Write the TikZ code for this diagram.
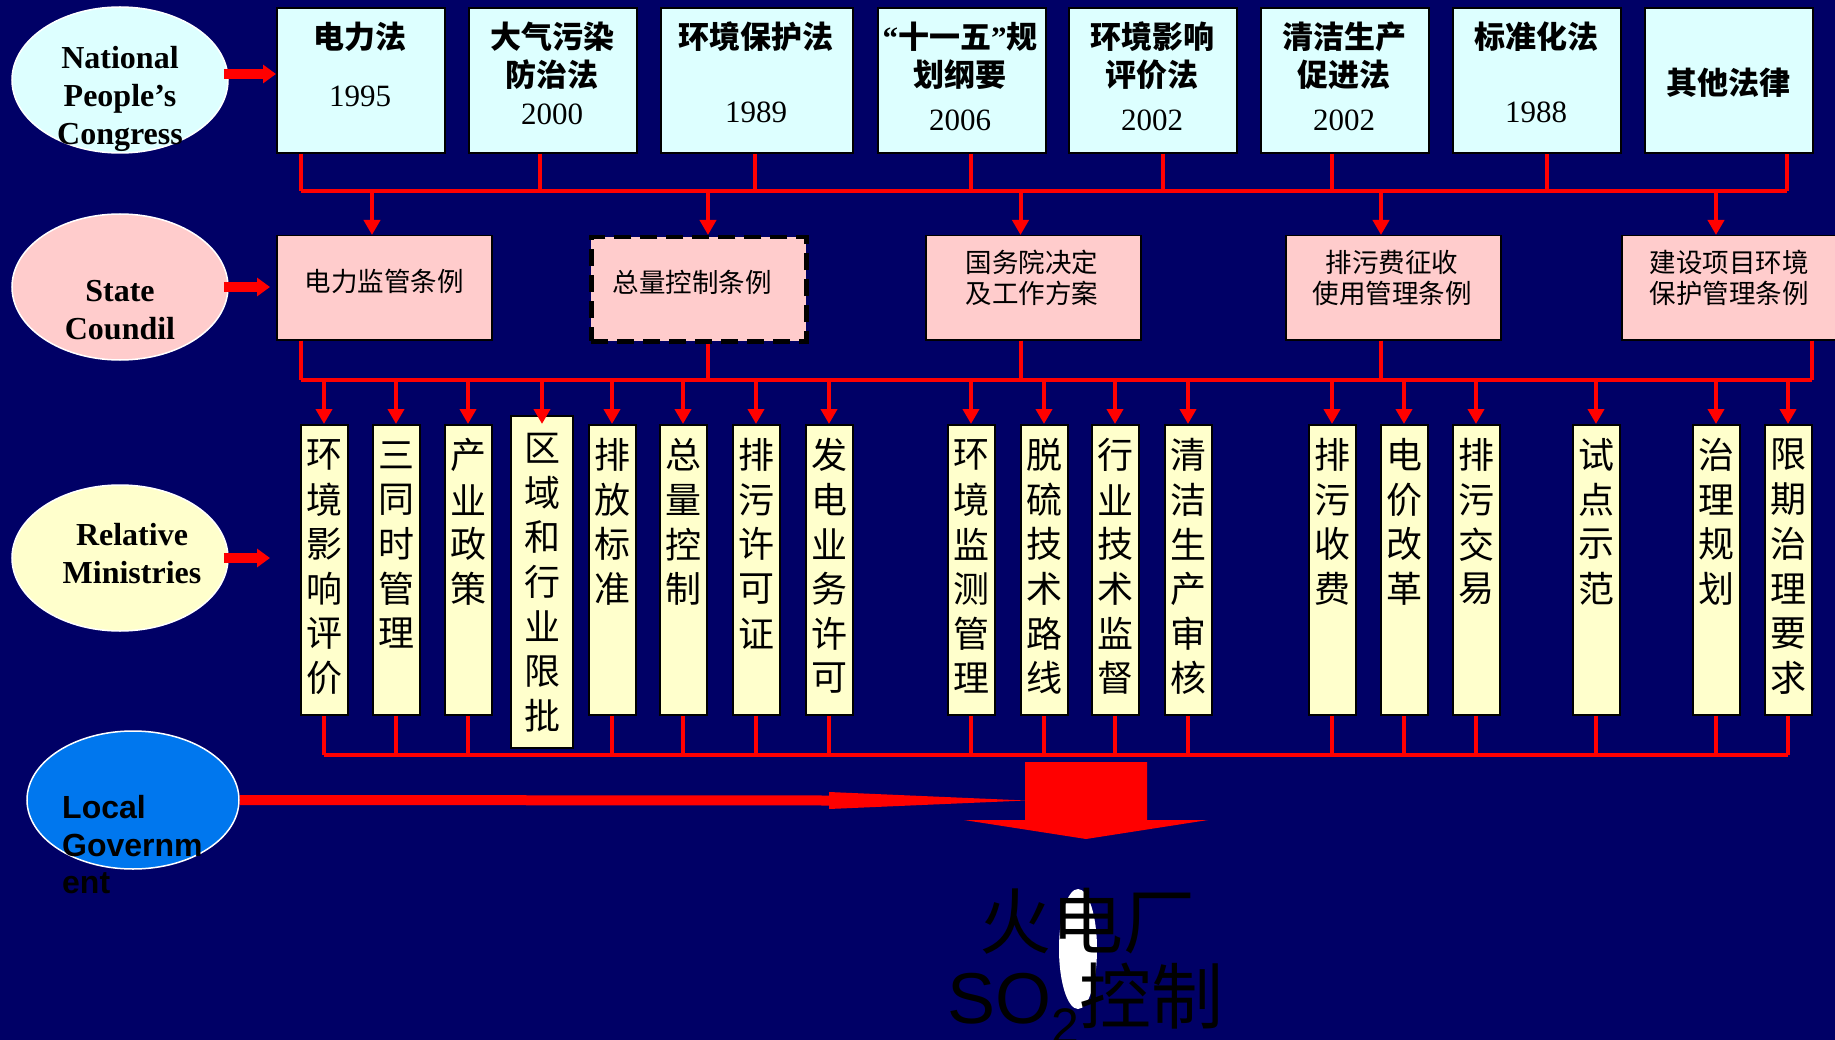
\documentclass[tikz,border=0pt]{standalone}
\usepackage{fontspec}
\setmainfont{Liberation Serif}
\newfontfamily\cjk{Noto Sans CJK SC}
\newfontfamily\arialf{Liberation Sans}
\usetikzlibrary{arrows.meta,shapes.geometric}
\definecolor{bgnavy}{RGB}{0,0,102}
\definecolor{lawc}{RGB}{221,255,255}
\definecolor{regc}{RGB}{255,204,204}
\definecolor{minc}{RGB}{255,255,204}
\definecolor{locc}{RGB}{0,119,238}
\definecolor{redc}{RGB}{255,0,0}
\newcommand\vcol[4]{\foreach \vchar [count=\vi] in {#4} {\node[vch] (#1t\vi) at (#2,{#3+(\vi-1)*44.6}) {\vchar};}}
\begin{document}
\begin{tikzpicture}[x=1pt,y=-1pt,
  lawbox/.style={draw=black,line width=2pt,fill=lawc,minimum width=168pt,minimum height=145pt,inner sep=0pt,anchor=north west},
  regbox/.style={draw=black,line width=1.5pt,fill=regc,minimum width=215pt,minimum height=104pt,inner sep=0pt,anchor=north west},
  minbox/.style={draw=black,line width=2pt,fill=minc,minimum width=47pt,minimum height=290pt,inner sep=0pt,anchor=north},
  lawtxt/.style={font=\cjk\bfseries\fontsize{31}{38}\selectfont,inner sep=0pt,align=center},
  yeartxt/.style={font=\fontsize{31}{36}\selectfont,inner sep=0pt,anchor=base},
  regtxt/.style={font=\cjk\fontsize{26.5}{31}\selectfont,inner sep=0pt,align=center},
  vch/.style={font=\cjk\fontsize{36}{36}\selectfont,inner sep=0pt},
  orgell/.style={ellipse,draw=white,line width=1.5pt,minimum width=216pt,minimum height=146pt,inner sep=0pt},
  orgtxt/.style={font=\bfseries\fontsize{32}{38}\selectfont,align=center,inner sep=0pt},
  rl/.style={draw=redc,line width=4pt},
  ra/.style={rl,-{Triangle[length=15pt,width=16pt]}},
  fat/.style={draw=redc,line width=10pt,-{Triangle[length=13pt,width=18pt]}},
  bigtxt/.style={font=\cjk\fontsize{72}{72}\selectfont,inner sep=0pt,text=black}
]
\fill[bgnavy] (0,0) rectangle (1835,1040);
\useasboundingbox (0,0) rectangle (1835,1040);

% ---- left ellipses
\node[orgell,fill=lawc] (npc) at (120,80) {};
\node[orgtxt] (npct) at (120,98.6) {National\\People’s\\Congress};
\node[orgell,fill=regc] (sc) at (120,287) {};
\node[orgtxt] (sct) at (120,310) {State\\Coundil};
\node[orgell,fill=minc] (rm) at (120,558) {};
\node[orgtxt] (rmt) at (132,554) {Relative\\Ministries};
\node[ellipse,draw=white,line width=1.5pt,fill=locc,minimum width=212pt,minimum height=138pt,inner sep=0pt] (lg) at (133,800) {};
\node[font=\arialf\bfseries\fontsize{32}{37.5}\selectfont,align=left,anchor=west,inner sep=0pt] (lgt) at (62,845) {Local\\Governm\\ent};

% ---- laws
\node[lawbox] (t1) at (276,7) {};
\node[lawbox] (t2) at (468,7) {};
\node[lawbox,minimum width=192pt] (t3) at (660,7) {};
\node[lawbox] (t4) at (877,7) {};
\node[lawbox] (t5) at (1068,7) {};
\node[lawbox] (t6) at (1260,7) {};
\node[lawbox] (t7) at (1452,7) {};
\node[lawbox] (t8) at (1644,7) {};

\node[lawtxt] (t1a) at (360,37) {电力法};
\node[yeartxt] (t1y) at (360,107) {1995};
\node[lawtxt] (t2a) at (552,37) {大气污染};
\node[lawtxt] (t2b) at (552,75) {防治法};
\node[yeartxt] (t2y) at (552,125) {2000};
\node[lawtxt] (t3a) at (756,37) {环境保护法};
\node[yeartxt] (t3y) at (756,123) {1989};
\node[lawtxt] (t4a) at (960,37) {{\rmfamily\bfseries “}十一五{\rmfamily\bfseries ”}规};
\node[lawtxt] (t4b) at (960,75) {划纲要};
\node[yeartxt] (t4y) at (960,131) {2006};
\node[lawtxt] (t5a) at (1152,37) {环境影响};
\node[lawtxt] (t5b) at (1152,75) {评价法};
\node[yeartxt] (t5y) at (1152,131) {2002};
\node[lawtxt] (t6a) at (1344,37) {清洁生产};
\node[lawtxt] (t6b) at (1344,75) {促进法};
\node[yeartxt] (t6y) at (1344,131) {2002};
\node[lawtxt] (t7a) at (1536,37) {标准化法};
\node[yeartxt] (t7y) at (1536,123) {1988};
\node[lawtxt] (t8a) at (1728,83) {其他法律};

% ---- regulations
\node[regbox] (rA) at (276,235) {};
\node[regbox,line width=4.5pt,dash pattern=on 17pt off 9pt] (rB) at (589,235) {};
\node[regbox] (rC) at (925,235) {};
\node[regbox] (rD) at (1285,235) {};
\node[regbox,minimum width=216pt] (rE) at (1621,235) {};
\node[regtxt] (rAt) at (384,281) {电力监管条例};
\node[regtxt] (rBt) at (692,282) {总量控制条例};
\node[regtxt] (rCt) at (1032,277.5) {国务院决定\\及工作方案};
\node[regtxt] (rDt) at (1392,277.5) {排污费征收\\使用管理条例};
\node[regtxt] (rEt) at (1729,277.5) {建设项目环境\\保护管理条例};

% ---- ministries
\foreach \nm/\xx in {y1/324,y2/396,y3/468,y5/612,y6/683,y7/756,y8/829,y9/971,y10/1044,y11/1115,y12/1188,y13/1332,y14/1404,y15/1476,y16/1596,y17/1716,y18/1788}
  {\node[minbox] (\nm) at (\xx,424) {};}
\node[minbox,minimum width=62pt,minimum height=332pt] (y4) at (542,415) {};

\vcol{y1}{324}{455}{环,境,影,响,评,价}
\vcol{y2}{396}{455}{三,同,时,管,理}
\vcol{y3}{468}{455}{产,业,政,策}
\vcol{y4}{542}{448}{区,域,和,行,业,限,批}
\vcol{y5}{612}{455}{排,放,标,准}
\vcol{y6}{683}{455}{总,量,控,制}
\vcol{y7}{756}{455}{排,污,许,可,证}
\vcol{y8}{829}{455}{发,电,业,务,许,可}
\vcol{y9}{971}{455}{环,境,监,测,管,理}
\vcol{y10}{1044}{455}{脱,硫,技,术,路,线}
\vcol{y11}{1115}{455}{行,业,技,术,监,督}
\vcol{y12}{1188}{455}{清,洁,生,产,审,核}
\vcol{y13}{1332}{455}{排,污,收,费}
\vcol{y14}{1404}{455}{电,价,改,革}
\vcol{y15}{1476}{455}{排,污,交,易}
\vcol{y16}{1596}{455}{试,点,示,范}
\vcol{y17}{1716}{455}{治,理,规,划}
\vcol{y18}{1788}{455}{限,期,治,理,要,求}

% ---- bus 1
\foreach \k/\xx in {1/301,2/539.5,3/755,4/971,5/1163,6/1332,7/1547,8/1787}
  {\coordinate (b\k) at (\xx,191);
   \draw[rl] (t\k.south -| b\k) -- (b\k);}
\draw[rl] (b1) -- (b8);
\foreach \nm/\xx in {rA/372,rB/708,rC/1020.5,rD/1381,rE/1716}
  {\coordinate (p\nm) at (\xx,191);
   \draw[ra] (p\nm) -- (\nm.north -| p\nm);}

% ---- bus 2
\foreach \nm/\xx in {rA/301,rB/708,rC/1020.5,rD/1381,rE/1812}
  {\coordinate (c\nm) at (\xx,380);
   \draw[rl] (\nm.south -| c\nm) -- (c\nm);}
\draw[rl] (crA) -- (crE);
\foreach \nm in {y1,y2,y3,y5,y6,y7,y8,y9,y10,y11,y12,y13,y14,y15,y16,y17,y18}
  {\draw[ra] (\nm.north |- crA) -- (\nm.north);}
\coordinate (y4tip) at (542,424);
\draw[ra] (y4.north |- crA) -- (y4tip);

% ---- bottom bus
\coordinate (bb1) at (324,755);
\coordinate (bb2) at (1788,755);
\foreach \nm in {y1,y2,y3,y5,y6,y7,y8,y9,y10,y11,y12,y13,y14,y15,y16,y17,y18}
  {\draw[rl] (\nm.south) -- (\nm.south |- bb1);}
\draw[rl] (bb1) -- (bb2);

% ---- fat arrows from ellipses
\draw[fat,shorten <=-5pt] (npc.east |- 0,74) -- (t1.west |- 0,74);
\draw[fat,shorten <=-5pt,shorten >=6pt] (sc.east |- 0,287) -- (rA.west |- 0,287);
\draw[fat,shorten <=-5pt,shorten >=6pt] (rm.east) -- (270+6,558);

% ---- big arrow
\fill[redc] (1025,762) -- (1147,762) -- (1147,820) -- (1208,820) -- (1086,839) -- (964,820) -- (1025,820) -- cycle;
\coordinate (hd) at (830,800.5);
\draw[redc,line width=10pt] (lg.east) -- (hd);
\fill[redc] (829,792) -- (1026,800.5) -- (829,809) -- cycle;

% ---- power plant text
\node[ellipse,fill=white,minimum width=38pt,minimum height=120pt,inner sep=0pt] (wel) at (1078,949) {};
\node[bigtxt] (ft1) at (1087,921) {火电厂};
\node[bigtxt,anchor=base west] (ft2) at (947,1023) {\arialf SO\raisebox{-20pt}{\fontsize{50}{50}\selectfont 2}\cjk 控制};
\end{tikzpicture}
\end{document}
